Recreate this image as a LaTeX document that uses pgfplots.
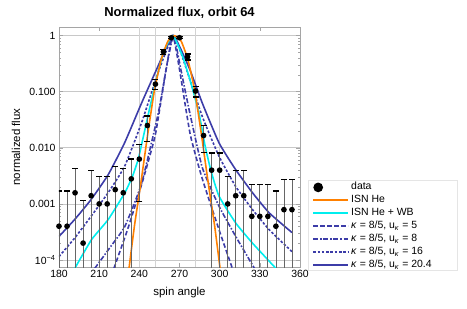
\documentclass[border=0pt]{standalone}
\usepackage{pgfplots}
\pgfplotsset{compat=1.18}
\usepackage{pgfplotstable}
\usepackage{fontspec}
\setmainfont{Liberation Sans}
\definecolor{kblue}{RGB}{60,60,168}
\definecolor{isnorange}{RGB}{255,128,0}
\definecolor{isncyan}{RGB}{0,238,238}
\definecolor{gridgray}{RGB}{200,200,200}
\definecolor{framegray}{RGB}{165,165,165}

\pgfplotstableread{
a v ep em
180 4.0e-4 1.3e-3 3.96e-4
186 4.0e-4 1.3e-3 3.96e-4
192 1.58e-3 2.72e-3 1.564e-3
198 2.0e-4 9.5e-4 1.98e-4
204 1.4e-3 2.5e-3 1.386e-3
210 1.0e-3 2.1e-3 9.9e-4
216 1.0e-3 2.1e-3 9.9e-4
222 1.8e-3 2.9e-3 1.782e-3
228 1.58e-3 2.72e-3 1.564e-3
234 2.8e-3 3.5e-3 2.77e-3
240 6.3e-3 5.2e-3 5.2e-3
246 0.025 0.012 0.012
252 0.137 0.027 0.027
258 0.518 0.05 0.05
264 0.92 0.04 0.04
270 0.92 0.04 0.04
276 0.42 0.05 0.05
282 0.103 0.022 0.022
288 0.0166 0.0084 0.0084
294 4.0e-3 4.1e-3 3.96e-3
300 4.0e-3 4.1e-3 3.96e-3
306 1.0e-3 2.1e-3 9.9e-4
312 1.4e-3 2.6e-3 1.386e-3
318 1.4e-3 2.6e-3 1.386e-3
324 6.0e-4 1.6e-3 5.94e-4
330 6.0e-4 1.6e-3 5.94e-4
336 6.0e-4 1.6e-3 5.94e-4
342 4.0e-4 1.3e-3 3.96e-4
348 7.9e-4 1.91e-3 7.82e-4
354 7.9e-4 1.91e-3 7.82e-4
}\fluxdata

\begin{document}
\begin{tikzpicture}
\begin{axis}[
  scale only axis, width=241bp, height=240bp,
  xmin=180, xmax=360, ymode=log, ymin=7.5e-5, ymax=1.43,
  axis line style={framegray, line width=0.8bp},
  tick align=inside,
  tick style={framegray, line width=0.6bp},
  major tick length=4bp, minor tick length=2bp,
  xtick={180,210,240,270,300,330,360},
  xticklabels={180,210,240,270,300,330,360},
  ytick={1e-4,1e-3,1e-2,1e-1,1},
  yticklabels={10\textsuperscript{−4},0.001,0.010,0.100,1},
  minor ytick={2e-4,3e-4,4e-4,5e-4,6e-4,7e-4,8e-4,9e-4,2e-3,3e-3,4e-3,5e-3,6e-3,7e-3,8e-3,9e-3,0.02,0.03,0.04,0.05,0.06,0.07,0.08,0.09,0.2,0.3,0.4,0.5,0.6,0.7,0.8,0.9},
  ymajorgrids, major grid style={gridgray, line width=0.8bp},
  extra x ticks={240,252,282,300}, extra x tick labels={},
  extra x tick style={grid=major, major grid style={gridgray!80, line width=1.4bp}, major tick length=0pt},
  ticklabel style={font=\fontsize{10.5}{12}\selectfont},
  title={Normalized flux, orbit 64},
  title style={at={(axis description cs:0.5,1.0333)}, anchor=center, font=\bfseries\fontsize{13}{15}\selectfont},
  xlabel={spin angle},
  xlabel style={at={(axis description cs:0.5,-0.1083)}, anchor=center, font=\fontsize{11.5}{13}\selectfont},
  ylabel={normalized flux},
  ylabel style={at={(axis description cs:-0.1784,0.5)}, anchor=center, font=\fontsize{11.5}{13}\selectfont},
  legend image code/.code={\draw[#1, line width=2bp] (0bp,0bp) -- (35bp,0bp);},
  legend style={at={(axis description cs:1.0498,0.3596)}, anchor=north west, draw=none, fill=none, inner sep=0pt,
    font=\fontsize{10.5}{12}\selectfont, row sep=0pt,
    nodes={inner ysep=1bp, inner xsep=2bp, text height=8bp, text depth=3bp}},
  legend cell align=left,
  every axis plot/.append style={line width=1.6bp},
]
\coordinate (O) at (rel axis cs:0,0);
\addlegendimage{legend image code/.code={\fill[black] (5bp,0bp) circle (4bp);}}
\addlegendentry{data}
\addlegendimage{color=isnorange, solid}
\addlegendentry{ISN He}
\addlegendimage{color=isncyan, solid}
\addlegendentry{ISN He + WB}
\addlegendimage{color=kblue, dash pattern=on 4.5bp off 2.5bp}
\addlegendentry{\textit{κ} = 8/5, u\textsubscript{\textit{κ}} = 5}
\addlegendimage{color=kblue, dash pattern=on 5bp off 1.8bp on 1.5bp off 1.8bp}
\addlegendentry{\textit{κ} = 8/5, u\textsubscript{\textit{κ}} = 8}
\addlegendimage{color=kblue, dash pattern=on 2.5bp off 1.8bp}
\addlegendentry{\textit{κ} = 8/5, u\textsubscript{\textit{κ}} = 16}
\addlegendimage{color=kblue, solid}
\addlegendentry{\textit{κ} = 8/5, u\textsubscript{\textit{κ}} = 20.4}

% kappa u=20.4
\addplot[kblue, smooth, tension=0.3, forget plot] coordinates {
(180,2.63e-4)(192,5.37e-4)(204,1.20e-3)(216.7,3.31e-3)(229,1.23e-2)(241.7,6.31e-2)(254,0.288)(260,0.603)(265.5,1)(271,0.575)(278,0.240)(287,0.0631)(299.5,0.0123)(312,4.07e-3)(324.5,1.585e-3)(337,6.92e-4)(354,3.09e-4)};
% kappa u=16
\addplot[kblue, dash pattern=on 2.5bp off 1.8bp, smooth, tension=0.3, forget plot] coordinates {
(180,1.15e-4)(192,2.51e-4)(204,6.03e-4)(216.7,1.585e-3)(229,4.68e-3)(241.7,2.82e-2)(254,0.219)(260,0.525)(265.5,1)(271,0.501)(278,0.158)(287,0.0363)(299.5,7.08e-3)(312,2.04e-3)(324.5,7.94e-4)(337,3.47e-4)(354,1.41e-4)};
% kappa u=8
\addplot[kblue, dash pattern=on 5bp off 1.8bp on 1.5bp off 1.8bp, smooth, tension=0.3, forget plot] coordinates {
(206.7,7.08e-5)(218,1.66e-4)(229.2,3.98e-4)(241.7,2.34e-3)(254.2,0.0422)(260,0.251)(265.5,1)(271,0.251)(277,0.0501)(287,4.47e-3)(299.5,9.12e-4)(312,2.63e-4)(326,7.08e-5)};
% kappa u=5
\addplot[kblue, dash pattern=on 4.5bp off 2.5bp, smooth, tension=0.3, forget plot] coordinates {
(221,7.08e-5)(232,3.98e-4)(243,2.82e-3)(252,0.0174)(260,0.251)(265,1)(270,0.251)(278,0.0174)(287,2.82e-3)(299.5,3.47e-4)(309.5,7.08e-5)};
% ISN He + WB
\addplot[isncyan, smooth, tension=0.3, forget plot] coordinates {
(191.8,7.08e-5)(204.2,2.29e-4)(216.7,5.25e-4)(229.2,1.585e-3)(235,3.16e-3)(239.2,6.31e-3)(243,0.0158)(246.7,0.0398)(252,0.141)(258,0.501)(265,1)(272,0.447)(278,0.158)(284.5,0.0422)(289,0.0112)(293.3,4.07e-3)(299.5,1.38e-3)(312,4.57e-4)(324.5,2.0e-4)(342,7.08e-5)};
% ISN He
\addplot[isnorange, smooth, tension=0.3, forget plot] coordinates {
(232.3,7.08e-5)(236.3,3.98e-4)(241.3,2.51e-3)(246.3,0.0178)(251.3,0.107)(256.3,0.372)(261.3,0.794)(266.3,1)(271.3,0.794)(276.3,0.372)(281.3,0.107)(286.3,0.0178)(291.3,2.51e-3)(296.3,3.98e-4)(300.3,7.08e-5)};
% data
\addplot[only marks, mark=*, mark size=2bp, black, forget plot,
  error bars/.cd, y dir=both, y explicit,
  error bar style={line width=0.8bp, black!60},
  error mark options={rotate=90, black, line width=1.3bp, mark size=3bp}]
  table[x=a, y=v, y error plus=ep, y error minus=em] {\fluxdata};
\end{axis}
\draw[gray!20, line width=0.8bp] ([xshift=249bp,yshift=87bp]O) rectangle ([xshift=398bp,yshift=-3bp]O);
\pgfresetboundingbox
\path[use as bounding box] ([xshift=-59bp,yshift=-42bp]O) rectangle ([xshift=408bp,yshift=267bp]O);
\end{tikzpicture}
\end{document}
